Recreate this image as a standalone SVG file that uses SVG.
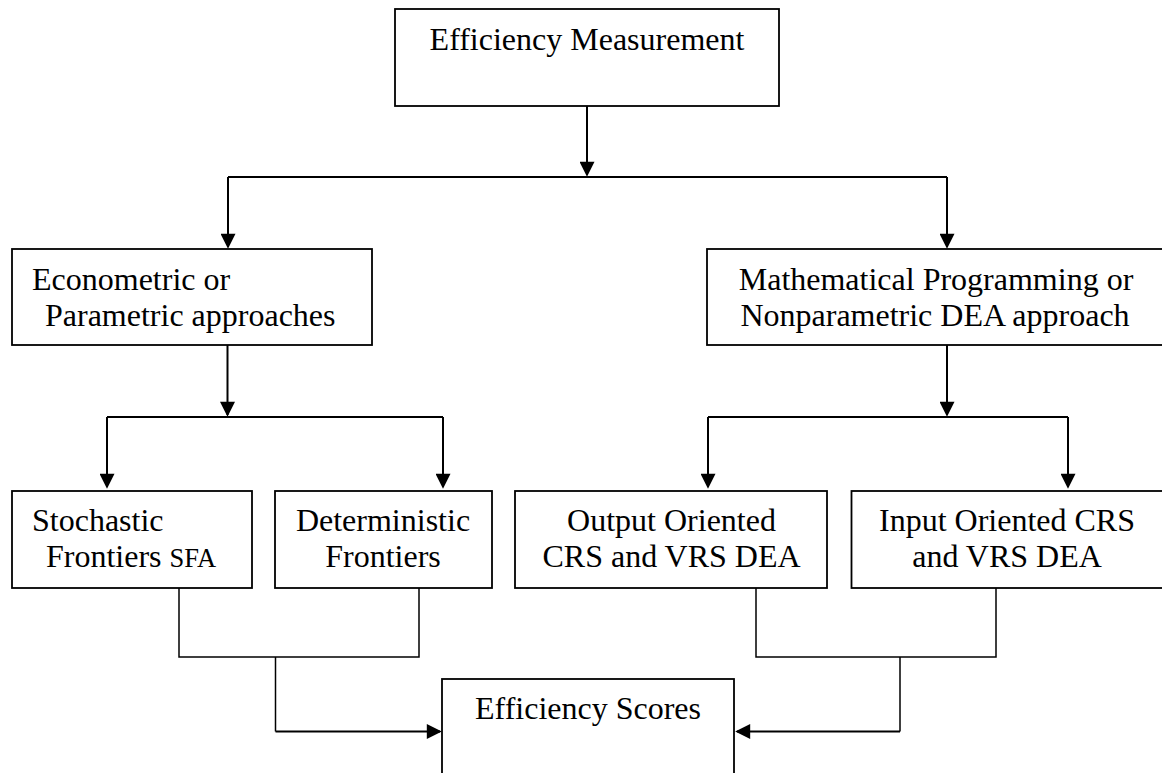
<svg xmlns="http://www.w3.org/2000/svg" width="1162" height="773" viewBox="0 0 1162 773">
  <style>
    .box { fill: #ffffff; stroke: #000000; stroke-width: 1.8; }
    .lbl { font-family: "Liberation Serif", "Times New Roman", serif; font-size: 32px; fill: #000000; }
    .mid { text-anchor: middle; }
    .small { font-size: 26.5px; }
    .arrow { fill: none; stroke: #000000; stroke-width: 2; marker-end: url(#ah); }
    .link { fill: none; stroke: #000000; stroke-width: 1.5; }
    .link2 { fill: none; stroke: #000000; stroke-width: 2; }
  </style>
  <defs>
    <marker id="ah" viewBox="0 0 10 10" refX="8.8" refY="5" markerUnits="userSpaceOnUse" markerWidth="17" markerHeight="15" orient="auto">
      <path d="M0,0 L10,5 L0,10 z" fill="#000000"/>
    </marker>
  </defs>
  <rect width="1162" height="773" fill="#ffffff"/>

  <g id="connectors">
    <line class="arrow" x1="587" y1="106" x2="587" y2="175"/>
    <polyline class="link2" points="228,177 947,177"/>
    <line class="arrow" x1="228" y1="177" x2="228" y2="247"/>
    <line class="arrow" x1="947" y1="177" x2="947" y2="247"/>
    <line class="arrow" x1="227.5" y1="345" x2="227.5" y2="415"/>
    <line class="arrow" x1="947" y1="345" x2="947" y2="415"/>
    <polyline class="link2" points="107,417 443,417"/>
    <polyline class="link2" points="708,417 1068,417"/>
    <line class="arrow" x1="107" y1="417" x2="107" y2="487"/>
    <line class="arrow" x1="443" y1="417" x2="443" y2="487"/>
    <line class="arrow" x1="708" y1="417" x2="708" y2="487"/>
    <line class="arrow" x1="1068" y1="417" x2="1068" y2="487"/>
    <polyline class="link" points="179,586 179,657 419,657 419,586"/>
    <polyline class="link" points="275.5,657 275.5,731.5"/>
    <line class="arrow" x1="275.5" y1="731.5" x2="440" y2="731.5"/>
    <polyline class="link" points="756,586 756,657 996,657 996,586"/>
    <polyline class="link" points="900,657 900,731.5"/>
    <line class="arrow" x1="900" y1="731.5" x2="737" y2="731.5"/>
  </g>

  <g id="efficiency-measurement">
    <rect class="box" x="395" y="9" width="384" height="97"/>
    <text class="lbl mid" x="587" y="50">Efficiency Measurement</text>
  </g>

  <g id="parametric">
    <rect class="box" x="12" y="249" width="360" height="96"/>
    <text class="lbl" x="32" y="290">Econometric or</text>
    <text class="lbl" x="45" y="326">Parametric approaches</text>
  </g>

  <g id="nonparametric">
    <rect class="box" x="707" y="249" width="460" height="96"/>
    <text class="lbl mid" x="936" y="290">Mathematical Programming or</text>
    <text class="lbl mid" x="935" y="326">Nonparametric DEA approach</text>
  </g>

  <g id="stochastic">
    <rect class="box" x="12" y="491" width="240" height="97"/>
    <text class="lbl" x="32" y="531">Stochastic</text>
    <text class="lbl" x="46" y="567">Frontiers <tspan class="small">SFA</tspan></text>
  </g>

  <g id="deterministic">
    <rect class="box" x="275" y="491" width="217" height="97"/>
    <text class="lbl mid" x="383" y="531">Deterministic</text>
    <text class="lbl mid" x="383" y="567">Frontiers</text>
  </g>

  <g id="output-oriented">
    <rect class="box" x="515" y="491" width="312" height="97"/>
    <text class="lbl mid" x="671.5" y="531">Output Oriented</text>
    <text class="lbl mid" x="671.5" y="567">CRS and VRS DEA</text>
  </g>

  <g id="input-oriented">
    <rect class="box" x="851.5" y="491" width="315" height="97"/>
    <text class="lbl mid" x="1007" y="531">Input Oriented CRS</text>
    <text class="lbl mid" x="1007" y="567">and VRS DEA</text>
  </g>

  <g id="efficiency-scores">
    <rect class="box" x="442" y="679" width="292" height="110"/>
    <text class="lbl mid" x="588" y="719">Efficiency Scores</text>
  </g>
</svg>
